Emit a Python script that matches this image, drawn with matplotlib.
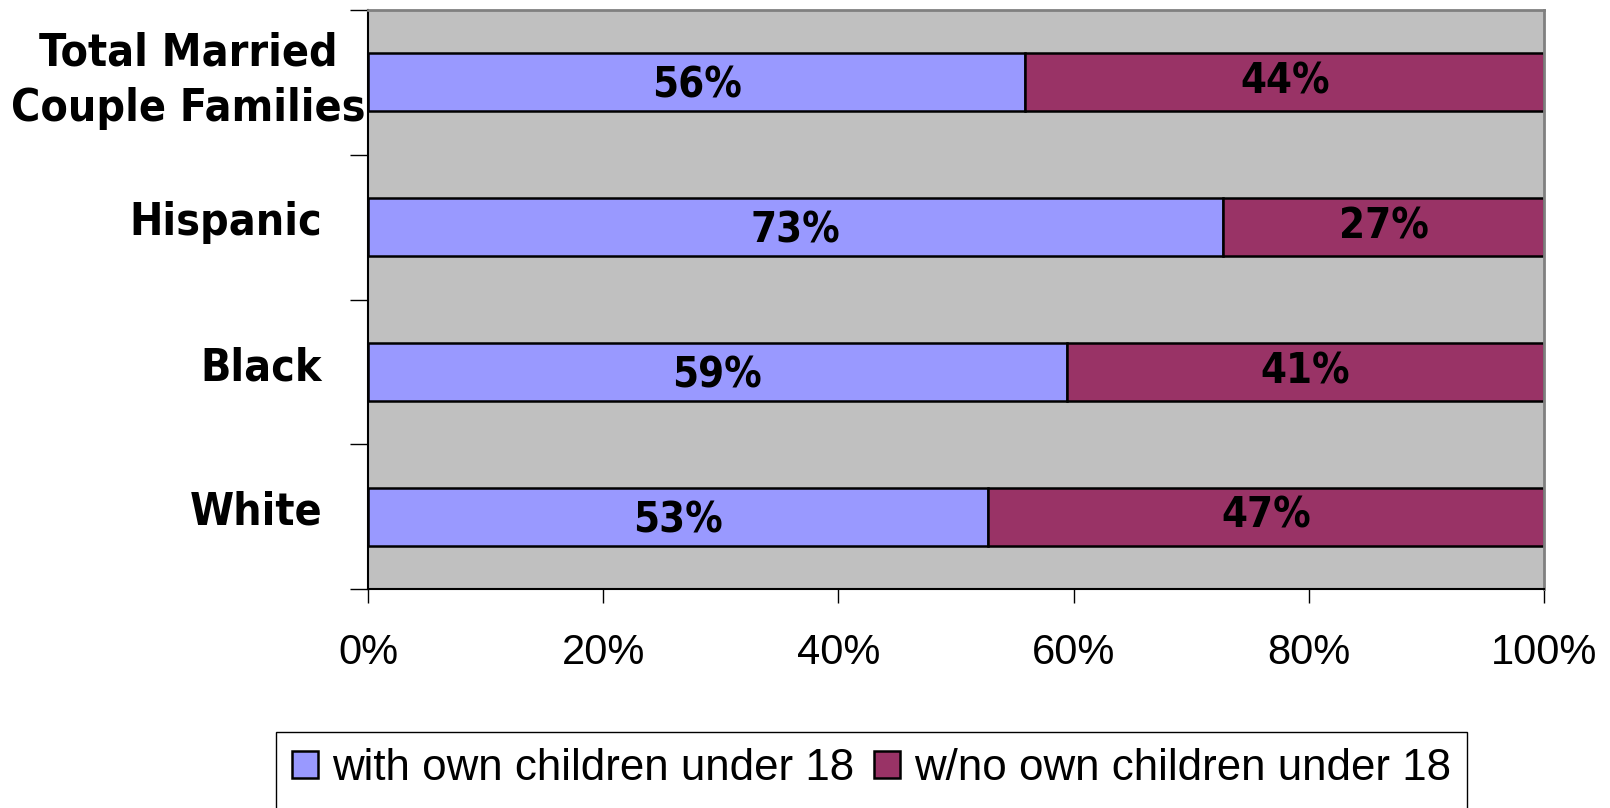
import matplotlib
matplotlib.use("Agg")
import matplotlib.pyplot as plt
import numpy as np
from matplotlib.patches import Rectangle
from matplotlib.transforms import blended_transform_factory

# data, top to bottom as in the chart
categories = ["Total Married\nCouple Families", "Hispanic", "Black", "White"]
with_children = [55.9, 72.7, 59.4, 52.7]
no_children = [44.1, 27.3, 40.6, 47.3]
series_names = ["with own children under 18", "w/no own children under 18"]
x_ticks = [0, 20, 40, 60, 80, 100]

BLUE = "#9999FF"
MAROON = "#993366"
BG = "#C0C0C0"

label_font = dict(family="DejaVu Sans", fontstretch="condensed", weight="bold")

fig = plt.figure(figsize=(16.1, 8.08), dpi=100)
ax = fig.add_axes([0.2286, 0.2710, 0.7304, 0.7166])
ax.set_facecolor(BG)

y = np.arange(len(categories))
b1 = ax.barh(y, with_children, height=0.4, color=BLUE, edgecolor="black",
             linewidth=1.8, label=series_names[0])
b2 = ax.barh(y, no_children, left=with_children, height=0.4, color=MAROON,
             edgecolor="black", linewidth=1.8, label=series_names[1])

# value labels in the middle of each segment
for i in range(len(categories)):
    ax.annotate(f"{round(with_children[i])}%", (with_children[i] / 2, y[i]),
                xytext=(0, -2.5), textcoords="offset points",
                ha="center", va="center", fontsize=30, **label_font)
    ax.annotate(f"{round(no_children[i])}%", (with_children[i] + no_children[i] / 2, y[i]),
                xytext=(0, 0.5), textcoords="offset points",
                ha="center", va="center", fontsize=30, **label_font)

ax.set_xlim(0, 100)
ax.set_ylim(len(categories) - 0.5, -0.5)
ax.set_xticks(x_ticks)
ax.set_xticklabels([f"{v}%" for v in x_ticks], family="Liberation Sans", fontsize=30)
ax.set_yticks(np.arange(len(categories) + 1) - 0.5)
ax.set_yticklabels([])
ax.tick_params(axis="x", length=10, width=1, pad=22, color="black")
ax.tick_params(axis="y", length=13, width=1, color="black")

# category labels (wrapped one is centred further left, like the original)
trans = blended_transform_factory(ax.transAxes, ax.transData)
for i, name in enumerate(categories):
    if "\n" in name:
        ax.text(-0.153, y[i] - 0.01, name, transform=trans, ha="center", va="center",
                multialignment="center", linespacing=1.38, fontsize=32, **label_font)
    else:
        ax.text(-0.039, y[i] - 0.03, name, transform=trans, ha="right", va="center",
                fontsize=32, **label_font)

for s in ["top", "right"]:
    ax.spines[s].set_color("#808080")
    ax.spines[s].set_linewidth(2)
for s in ["left", "bottom"]:
    ax.spines[s].set_color("black")
    ax.spines[s].set_linewidth(1.5)

leg = ax.legend(handles=[b1, b2], ncol=2, loc="upper left",
                bbox_to_anchor=(276 / 1610, 1 - 732 / 808), bbox_transform=fig.transFigure,
                prop={"family": "Liberation Sans", "size": 31.6},
                handlelength=0.59, handleheight=0.57, handletextpad=0.32,
                columnspacing=0.46, borderpad=0.36, borderaxespad=0,
                frameon=False)

# legend box runs off the bottom of the picture in the original
fig.canvas.draw()
bb = leg.get_window_extent().transformed(fig.transFigure.inverted())
fig.add_artist(Rectangle((bb.x0, -0.05), bb.width, bb.y1 + 0.05, transform=fig.transFigure,
                         facecolor="none", edgecolor="black", linewidth=1.0, zorder=0))

fig.savefig("out.png", dpi=100)
